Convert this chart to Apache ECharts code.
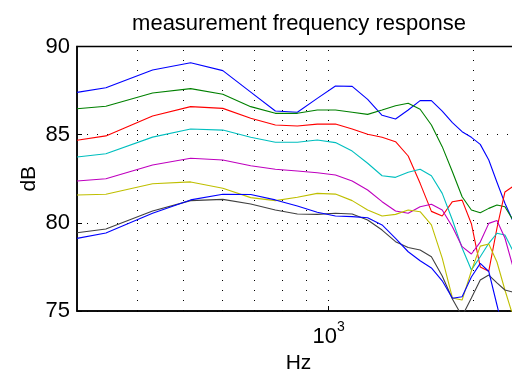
<!DOCTYPE html>
<html>
<head>
<meta charset="utf-8">
<script src="https://cdn.jsdelivr.net/npm/echarts@6/dist/echarts.min.js"></script>
<style>
html, body { margin: 0; padding: 0; overflow: hidden; background: #fff; }
#myChart { width: 530px; height: 374px; }
</style>
</head>
<body>
<div id="myChart"></div>
<script>
// frequency bins (Hz), first point is the left axis edge
var freqs = [300, 344.5, 430.7, 516.8, 602.9, 689, 775.2, 861.3, 947.4, 1033.6, 1119.7, 1205.8, 1292,
  1378, 1464, 1550, 1636, 1723, 1809, 1895, 1981, 2067, 2153, 2239, 2326, 2412];
// dotted vertical grid at the log minor/major ticks
var gridFreqs = [400, 500, 600, 700, 800, 900, 1000, 2000];
var yTicks = [75, 80, 85, 90];

var blueTop = [87.40, 87.66, 88.67, 89.08, 88.63, 87.41, 86.34, 86.27, 87.06, 87.76, 87.74, 87.00, 86.10,
  85.89, 86.40, 86.93, 86.93, 86.34, 85.68, 85.17, 84.85, 84.45, 83.56, 82.30, 81.11, 80.16];
var green = [86.47, 86.61, 87.36, 87.61, 87.29, 86.59, 86.21, 86.21, 86.40, 86.40, 86.27, 86.15, 86.40,
  86.64, 86.78, 86.44, 85.55, 84.32, 82.90, 81.48, 80.73, 80.57, 80.82, 81.01, 80.91, 80.20];
var red = [84.68, 84.93, 86.06, 86.59, 86.49, 85.93, 85.55, 85.49, 85.60, 85.60, 85.32, 85.02, 84.85,
  84.60, 83.79, 82.24, 80.65, 80.39, 81.20, 81.29, 79.95, 77.50, 77.26, 79.70, 81.75, 82.05];
var cyan = [83.73, 83.92, 84.86, 85.32, 85.26, 84.85, 84.57, 84.57, 84.70, 84.55, 84.07, 83.38, 82.67,
  82.58, 82.87, 83.04, 82.67, 81.67, 80.16, 78.57, 77.33, 78.08, 78.84, 79.41, 79.31, 78.46];
var magenta = [82.37, 82.50, 83.28, 83.66, 83.56, 83.24, 83.04, 82.94, 82.84, 82.71, 82.37, 81.86, 81.20,
  80.67, 80.54, 80.91, 81.05, 80.73, 79.78, 78.65, 78.23, 78.91, 79.97, 80.13, 79.14, 77.60];
var yellow = [81.58, 81.62, 82.22, 82.32, 81.96, 81.43, 81.26, 81.45, 81.67, 81.63, 81.26, 80.73, 80.39,
  80.48, 80.73, 80.63, 79.88, 78.00, 75.74, 75.62, 77.27, 78.68, 78.80, 77.78, 76.19, 74.80];
var gray = [79.44, 79.65, 80.67, 81.26, 81.33, 81.07, 80.73, 80.50, 80.48, 80.54, 80.50, 80.16, 79.59,
  78.93, 78.60, 78.46, 78.08, 76.98, 75.68, 74.70, 75.74, 76.76, 77.04, 76.59, 76.19, 76.08];
var blueBottom = [79.12, 79.42, 80.54, 81.30, 81.62, 81.61, 81.30, 80.95, 80.60, 80.39, 80.35, 80.29, 79.88,
  79.12, 78.36, 77.85, 77.44, 76.71, 75.72, 75.81, 76.93, 77.70, 77.24, 75.34, 73.50, 72.00];

var lines = [
  { name: "1", color: "#0000ff", data: blueTop },
  { name: "2", color: "#008000", data: green },
  { name: "3", color: "#ff0000", data: red },
  { name: "4", color: "#00bfbf", data: cyan },
  { name: "5", color: "#bf00bf", data: magenta },
  { name: "6", color: "#bfbf00", data: yellow },
  { name: "7", color: "#404040", data: gray },
  { name: "8", color: "#0000ff", data: blueBottom }
];

var font = "'Liberation Sans', Arial, Helvetica, sans-serif";
var myChart = echarts.init(document.getElementById("myChart"));

var series = lines.map(function (l, i) {
  var s = {
    name: l.name,
    type: "line",
    showSymbol: false,
    clip: true,
    data: freqs.map(function (f, j) { return [f, l.data[j]]; }),
    lineStyle: { color: l.color, width: 1.1 },
    itemStyle: { color: l.color },
    z: 3
  };
  if (i === 0) {
    s.markLine = {
      silent: true,
      symbol: "none",
      label: { show: false },
      lineStyle: { color: "#000", type: [1, 9], width: 1 },
      data: gridFreqs.map(function (f) { return { xAxis: f }; }),
      z: 1
    };
  }
  return s;
});

myChart.setOption({
  animation: false,
  title: {
    text: "measurement frequency response",
    left: 294,
    textAlign: "center",
    top: 8,
    textStyle: { fontFamily: font, fontSize: 22, fontWeight: "normal", color: "#000" }
  },
  grid: {
    left: 77, top: 46.5, right: 10, bottom: 63,
    outerBoundsMode: "none",
    containLabel: false,
    show: true, borderColor: "#000", borderWidth: 1.5
  },
  xAxis: {
    type: "log",
    logBase: 10,
    min: 300,
    max: 2500,
    name: "Hz",
    nameLocation: "middle",
    nameGap: 42,
    nameMoveOverlap: false,
    nameTextStyle: { fontFamily: font, fontSize: 21, color: "#000" },
    axisLine: { lineStyle: { color: "#000", width: 1.5 } },
    axisTick: { show: true, inside: true, length: 5, lineStyle: { color: "#000" } },
    splitLine: { show: false },
    axisLabel: {
      margin: 9,
      showMinLabel: false,
      showMaxLabel: false,
      formatter: function (v) {
        return Math.abs(v - 1000) < 1 ? "{b|10}{s|3}" : "";
      },
      rich: {
        b: { fontFamily: font, fontSize: 22, color: "#000", lineHeight: 34 },
        s: { fontFamily: font, fontSize: 14, color: "#000", lineHeight: 10, verticalAlign: "top" }
      }
    }
  },
  yAxis: {
    type: "value",
    min: yTicks[0],
    max: yTicks[yTicks.length - 1],
    interval: 5,
    name: "dB",
    nameLocation: "middle",
    nameRotate: 90,
    nameGap: 37,
    nameMoveOverlap: false,
    nameTextStyle: { fontFamily: font, fontSize: 21, color: "#000" },
    axisLine: { lineStyle: { color: "#000", width: 1.5 } },
    axisTick: { show: true, inside: true, length: 5, lineStyle: { color: "#000" } },
    axisLabel: { margin: 7, fontFamily: font, fontSize: 22, color: "#000" },
    splitLine: { show: true, lineStyle: { color: "#000", type: [1, 9], width: 1 } }
  },
  series: series
});
</script>
</body>
</html>
